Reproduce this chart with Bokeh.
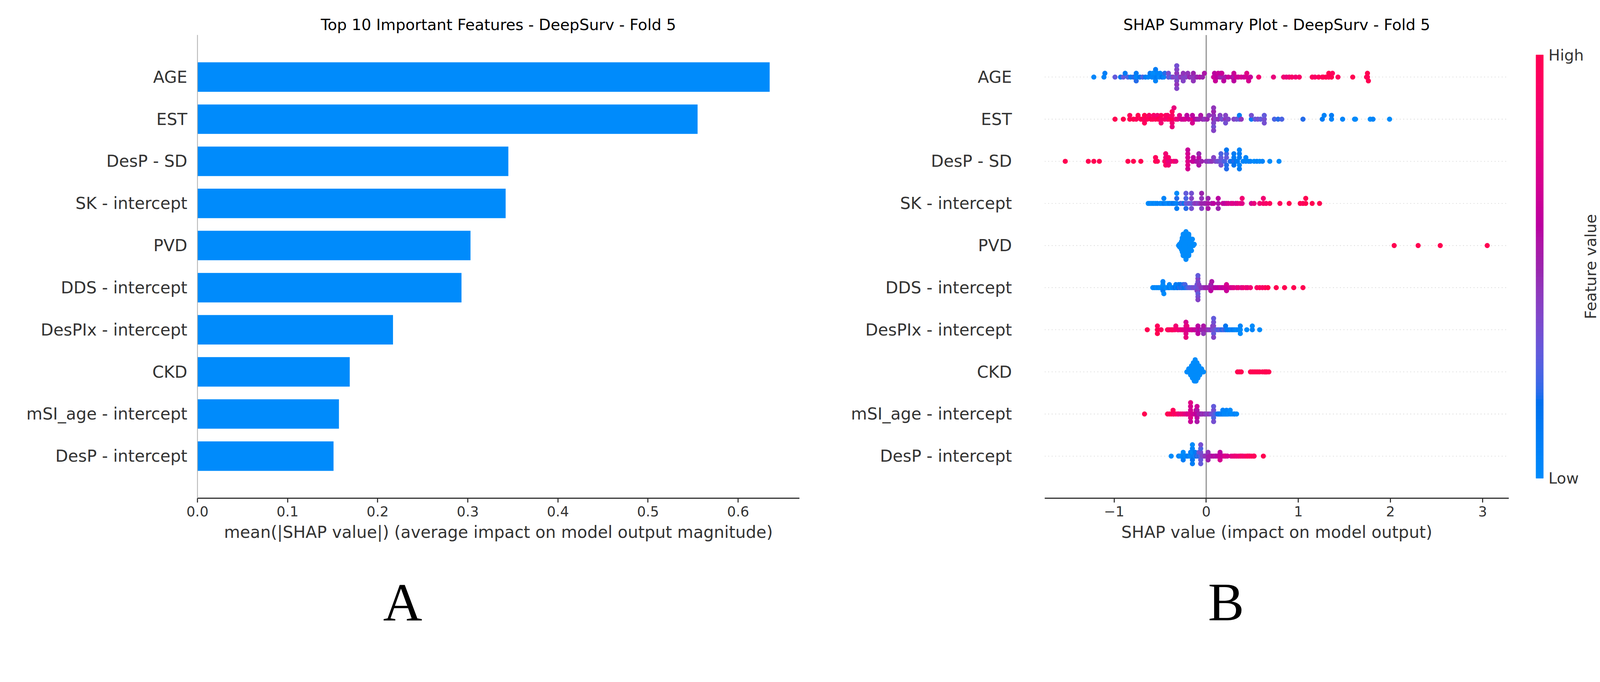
import numpy as np
from bokeh.plotting import figure
from bokeh.layouts import row, column
from bokeh.models import Range1d, FixedTicker, PrintfTickFormatter, Span
from bokeh.core.properties import value
from bokeh.embed import file_html
from bokeh.resources import INLINE

# ---------------- data ----------------
features = ["AGE", "EST", "DesP - SD", "SK - intercept", "PVD", "DDS - intercept",
            "DesPIx - intercept", "CKD", "mSI_age - intercept", "DesP - intercept"]
mean_abs_shap = [0.635, 0.555, 0.345, 0.342, 0.303, 0.293, 0.217, 0.169, 0.157, 0.151]
x_ticks_a = [0.0, 0.1, 0.2, 0.3, 0.4, 0.5, 0.6]
x_ticks_b = [-1, 0, 1, 2, 3]

# (SHAP value, normalised feature value)
AGE = [(-1.22,.03),(-1.11,.05),(-1.10,.08),(-0.99,.3),(-0.93,.15),(-0.90,.3),(-0.88,.1),(-0.85,.25),
       (-0.82,.1),(-0.79,.2),(-0.76,.05),(-0.76,.1),(-0.76,.2),(-0.75,.05),(-0.72,.15),(-0.69,.25),
       (-0.66,.1),(-0.63,.05),(-0.61,.1),(-0.59,.05),(-0.58,.0),(-0.57,.05),(-0.55,.0),(-0.55,.05),
       (-0.55,.1),(-0.54,.1),(-0.53,.05),(-0.51,.0),(-0.50,.05),(-0.48,.15),(-0.46,.05),(-0.45,.2),
       (-0.41,.3),(-0.41,.35),(-0.38,.25),(-0.36,.4),(-0.33,.35),(-0.32,.45),(-0.32,.4),(-0.32,.4),
       (-0.32,.45),(-0.32,.35),(-0.32,.4),(-0.30,.35),(-0.28,.45),(-0.25,.4),(-0.25,.45),(-0.25,.4),
       (-0.22,.4),(-0.20,.45),(-0.18,.5),(-0.16,.45),(-0.14,.5),(-0.14,.45),(-0.12,.45),(-0.10,.5),
       (-0.07,.55),(-0.04,.5),(-0.02,.55),(0.08,.65),(0.09,.6),(0.10,.65),(0.12,.6),(0.13,.65),
       (0.15,.55),(0.16,.6),(0.17,.5),(0.17,.65),(0.19,.6),(0.21,.55),(0.24,.65),(0.28,.6),
       (0.30,.55),(0.30,.65),(0.30,.6),(0.33,.7),(0.35,.65),(0.38,.7),(0.41,.65),(0.44,.7),
       (0.44,.75),(0.46,.7),(0.48,.65),(0.57,.85),(0.73,.8),(0.84,.85),(0.87,.8),(0.90,.85),
       (0.93,.9),(0.97,.85),(1.01,.9),(1.15,.95),(1.18,.9),(1.22,.95),(1.26,1.0),(1.27,.95),
       (1.30,1.0),(1.33,.95),(1.33,1.0),(1.36,1.0),(1.37,.95),(1.43,.95),(1.59,1.0),(1.74,1.0),
       (1.75,.95),(1.75,1.0),(1.76,1.0)]

EST = [(-0.99,1.0),(-0.90,1.0),(-0.83,1.0),(-0.83,.95),(-0.79,1.0),(-0.76,.95),(-0.74,1.0),(-0.71,.95),
       (-0.69,1.0),(-0.67,.9),(-0.67,1.0),(-0.67,.95),(-0.64,.95),(-0.62,.9),(-0.60,1.0),(-0.58,.95),
       (-0.57,.9),(-0.55,.95),(-0.53,.85),(-0.52,1.0),(-0.49,.9),(-0.49,.95),(-0.49,.85),(-0.45,.9),
       (-0.44,.95),(-0.42,.85),(-0.42,.9),(-0.40,.95),(-0.37,1.0),(-0.37,.9),(-0.37,.85),(-0.37,.95),
       (-0.37,.8),(-0.35,.8),(-0.33,.85),(-0.31,.8),(-0.29,.75),(-0.27,.7),(-0.25,.65),(-0.23,.7),
       (-0.21,.6),(-0.19,.65),(-0.15,.8),(-0.15,.6),(-0.15,.7),(-0.12,.6),(-0.10,.55),(-0.08,.5),
       (-0.06,.55),(-0.04,.5),(-0.02,.45),(0.01,.5),(0.03,.45),(0.08,.5),(0.08,.45),(0.08,.4),
       (0.08,.5),(0.08,.35),(0.08,.45),(0.08,.4),(0.10,.4),(0.13,.45),(0.15,.4),(0.17,.35),
       (0.21,.45),(0.21,.4),(0.21,.35),(0.24,.4),(0.30,.4),(0.33,.35),(0.36,.3),(0.36,.1),
       (0.38,.45),(0.49,.1),(0.49,.35),(0.53,.3),(0.56,.35),(0.59,.3),(0.63,.35),(0.63,.3),
       (0.63,.35),(0.74,.25),(0.78,.2),(0.82,.25),(1.05,.2),(1.26,.1),(1.28,.05),(1.36,.05),
       (1.36,.1),(1.48,.05),(1.61,.05),(1.62,.0),(1.78,.0),(1.81,.05),(1.99,.0)]

DESP_SD = [(-1.53,1.0),(-1.28,1.0),(-1.22,1.0),(-1.16,1.0),(-0.85,1.0),(-0.79,1.0),(-0.71,1.0),
           (-0.55,1.0),(-0.55,.95),(-0.53,.95),(-0.45,.9),(-0.44,.85),(-0.44,.9),(-0.44,.85),
           (-0.41,.8),(-0.41,.9),(-0.41,.85),(-0.38,.8),(-0.35,.9),(-0.33,.8),(-0.20,.75),(-0.20,.7),
           (-0.20,.75),(-0.20,.7),(-0.20,.7),(-0.20,.65),(-0.15,.6),(-0.14,.65),(-0.14,.6),(-0.11,.6),
           (-0.10,.55),(-0.08,.6),(-0.08,.55),(-0.08,.5),(-0.05,.5),(0.00,.45),(0.02,.45),(0.04,.4),
           (0.06,.45),(0.08,.4),(0.10,.4),(0.12,.35),(0.13,.35),(0.16,.3),(0.16,.3),(0.16,.35),
           (0.16,.25),(0.18,.3),(0.20,.25),(0.22,.3),(0.22,.2),(0.22,.25),(0.22,.2),(0.22,.15),
           (0.26,.2),(0.28,.15),(0.30,.2),(0.30,.1),(0.30,.15),(0.30,.1),(0.33,.15),(0.34,.1),
           (0.36,.1),(0.36,.05),(0.36,.1),(0.36,.1),(0.36,.05),(0.40,.05),(0.43,.05),(0.43,.05),
           (0.46,.05),(0.48,.05),(0.52,.0),(0.55,.05),(0.58,.0),(0.61,.05),(0.69,.0),(0.79,.0)]

SK = [(-0.63,.0),(-0.61,.05),(-0.59,.0),(-0.57,.05),(-0.55,.0),(-0.53,.05),(-0.50,.05),(-0.48,.0),
      (-0.46,.1),(-0.46,.05),(-0.44,.05),(-0.42,.0),(-0.40,.1),(-0.38,.05),(-0.36,.15),(-0.34,.1),
      (-0.32,.05),(-0.32,.2),(-0.32,.1),(-0.32,.0),(-0.28,.2),(-0.26,.25),(-0.24,.15),(-0.22,.3),
      (-0.22,.25),(-0.22,.2),(-0.22,.3),(-0.20,.3),(-0.18,.35),(-0.16,.3),(-0.16,.4),(-0.16,.35),
      (-0.16,.35),(-0.13,.4),(-0.11,.45),(-0.09,.4),(-0.07,.45),(-0.05,.5),(-0.05,.45),(-0.05,.4),
      (-0.05,.5),(-0.02,.5),(0.00,.5),(0.02,.55),(0.02,.5),(0.02,.55),(0.06,.55),(0.08,.6),
      (0.13,.55),(0.13,.6),(0.13,.5),(0.18,.65),(0.20,.6),(0.22,.65),(0.24,.7),(0.27,.7),
      (0.29,.75),(0.32,.7),(0.34,.75),(0.37,.8),(0.39,.75),(0.39,.85),(0.49,.7),(0.52,.8),
      (0.58,.85),(0.62,.9),(0.62,.85),(0.65,.9),(0.69,.95),(0.80,.95),(0.90,1.0),(1.02,1.0),
      (1.05,.95),(1.08,1.0),(1.08,1.0),(1.15,1.0),(1.23,1.0)]

PVD_low = [-0.30,-0.29,-0.29,-0.28,-0.28,-0.28,-0.27,-0.27,-0.27,-0.27,-0.26,-0.26,-0.26,-0.26,-0.26,
           -0.25,-0.25,-0.25,-0.25,-0.25,-0.25,-0.24,-0.24,-0.24,-0.24,-0.24,-0.24,-0.24,-0.23,-0.23,
           -0.23,-0.23,-0.23,-0.23,-0.23,-0.23,-0.22,-0.22,-0.22,-0.22,-0.22,-0.22,-0.22,-0.22,-0.21,
           -0.21,-0.21,-0.21,-0.21,-0.21,-0.21,-0.20,-0.20,-0.20,-0.20,-0.20,-0.20,-0.19,-0.19,-0.19,
           -0.19,-0.19,-0.18,-0.18,-0.18,-0.18,-0.17,-0.17,-0.17,-0.16,-0.16,-0.15,-0.14,-0.13]
PVD_high = [2.04, 2.30, 2.54, 3.05]

DDS = [(-0.58,.0),(-0.56,.05),(-0.54,.0),(-0.52,.05),(-0.50,.0),(-0.48,.0),(-0.47,.05),(-0.47,.0),
       (-0.47,.1),(-0.47,.05),(-0.46,.0),(-0.45,.05),(-0.43,.0),(-0.41,.05),(-0.40,.1),(-0.40,.05),
       (-0.38,.0),(-0.36,.1),(-0.35,.05),(-0.34,.15),(-0.33,.1),(-0.32,.05),(-0.31,.15),(-0.30,.1),
       (-0.29,.2),(-0.28,.15),(-0.27,.1),(-0.26,.2),(-0.25,.2),(-0.24,.15),(-0.23,.25),(-0.22,.2),
       (-0.20,.25),(-0.18,.3),(-0.16,.3),(-0.14,.35),(-0.12,.35),(-0.11,.3),(-0.10,.35),(-0.10,.4),
       (-0.09,.35),(-0.09,.3),(-0.09,.4),(-0.09,.35),(-0.09,.3),(-0.09,.4),(-0.09,.35),(-0.09,.3),
       (-0.09,.4),(-0.08,.35),(-0.08,.4),(-0.06,.4),(-0.05,.45),(-0.03,.45),(-0.01,.5),(0.01,.5),
       (0.03,.5),(0.05,.55),(0.05,.5),(0.05,.6),(0.06,.55),(0.08,.55),(0.10,.6),(0.12,.6),
       (0.14,.6),(0.16,.65),(0.18,.6),(0.20,.65),(0.22,.65),(0.22,.7),(0.22,.65),(0.26,.7),
       (0.28,.7),(0.30,.75),(0.33,.75),(0.35,.8),(0.38,.75),(0.40,.8),(0.43,.85),(0.45,.8),
       (0.48,.85),(0.55,.9),(0.58,.95),(0.61,.9),(0.64,.95),(0.67,1.0),(0.76,1.0),(0.85,1.0),
       (0.95,1.0),(1.05,1.0)]

DESPIX = [(-0.64,1.0),(-0.53,1.0),(-0.53,.95),(-0.53,1.0),(-0.49,.95),(-0.42,1.0),(-0.41,.95),
          (-0.40,.9),(-0.38,1.0),(-0.37,.9),(-0.36,.95),(-0.34,.9),(-0.33,.85),(-0.31,.9),(-0.30,.85),
          (-0.28,.8),(-0.26,.85),(-0.25,.75),(-0.23,.8),(-0.22,.7),(-0.22,.75),(-0.22,.7),(-0.22,.8),
          (-0.21,.7),(-0.21,.8),(-0.20,.75),(-0.18,.7),(-0.16,.65),(-0.15,.7),(-0.13,.6),(-0.12,.65),
          (-0.09,.55),(-0.09,.6),(-0.09,.6),(-0.07,.6),(-0.05,.5),(-0.03,.5),(-0.03,.55),(-0.03,.45),
          (0.00,.5),(0.02,.45),(0.04,.4),(0.05,.45),(0.07,.35),(0.07,.4),(0.08,.35),(0.08,.4),
          (0.08,.3),(0.08,.35),(0.08,.4),(0.08,.3),(0.09,.35),(0.11,.3),(0.13,.25),(0.15,.3),
          (0.17,.2),(0.19,.25),(0.21,.2),(0.21,.15),(0.23,.1),(0.25,.1),(0.27,.05),(0.29,.1),
          (0.31,.05),(0.33,.0),(0.35,.05),(0.37,.0),(0.37,.05),(0.37,.0),(0.44,.0),(0.50,.05),
          (0.50,.0),(0.58,.0)]

CKD_low = [-0.21,-0.20,-0.19,-0.19,-0.18,-0.18,-0.17,-0.17,-0.17,-0.16,-0.16,-0.16,-0.16,-0.15,-0.15,
           -0.15,-0.15,-0.15,-0.14,-0.14,-0.14,-0.14,-0.14,-0.14,-0.13,-0.13,-0.13,-0.13,-0.13,-0.13,
           -0.13,-0.12,-0.12,-0.12,-0.12,-0.12,-0.12,-0.12,-0.12,-0.11,-0.11,-0.11,-0.11,-0.11,-0.11,
           -0.11,-0.10,-0.10,-0.10,-0.10,-0.10,-0.10,-0.09,-0.09,-0.09,-0.09,-0.09,-0.08,-0.08,-0.08,
           -0.08,-0.07,-0.07,-0.07,-0.06,-0.06,-0.05,-0.05,-0.04,-0.03]
CKD_high = [0.34, 0.36, 0.38, 0.48, 0.50, 0.52, 0.54, 0.56, 0.58, 0.61, 0.63, 0.64, 0.65, 0.66, 0.68]

MSI = [(-0.67,1.0),(-0.42,1.0),(-0.40,.95),(-0.38,1.0),(-0.36,1.0),(-0.36,.95),(-0.35,.9),(-0.33,.95),
       (-0.31,.9),(-0.30,.85),(-0.28,.8),(-0.26,.85),(-0.24,.8),(-0.22,.75),(-0.21,.8),(-0.20,.7),
       (-0.18,.75),(-0.17,.8),(-0.17,.7),(-0.17,.75),(-0.17,.7),(-0.17,.65),(-0.17,.75),(-0.15,.7),
       (-0.13,.65),(-0.12,.7),(-0.11,.6),(-0.11,.65),(-0.10,.6),(-0.10,.55),(-0.10,.6),(-0.10,.65),
       (-0.10,.55),(-0.09,.6),(-0.08,.55),(-0.07,.5),(-0.06,.55),(-0.05,.5),(-0.04,.45),(-0.02,.5),
       (-0.01,.45),(0.01,.4),(0.03,.45),(0.05,.4),(0.06,.35),(0.08,.3),(0.08,.35),(0.08,.25),
       (0.08,.3),(0.08,.35),(0.09,.3),(0.10,.25),(0.12,.2),(0.13,.15),(0.14,.1),(0.15,.15),
       (0.16,.1),(0.17,.05),(0.18,.1),(0.18,.05),(0.19,.05),(0.20,.0),(0.21,.05),(0.22,.0),
       (0.22,.05),(0.23,.05),(0.24,.0),(0.26,.05),(0.26,.0),(0.28,.0),(0.30,.0),(0.31,.05),
       (0.33,.0)]

DESP = [(-0.38,.0),(-0.30,.05),(-0.28,.0),(-0.25,.05),(-0.25,.0),(-0.25,.1),(-0.23,.05),(-0.22,.0),
        (-0.21,.05),(-0.20,.1),(-0.18,.05),(-0.17,.0),(-0.17,.1),(-0.15,.05),(-0.15,.0),(-0.15,.15),
        (-0.15,.05),(-0.15,.1),(-0.15,.0),(-0.13,.1),(-0.12,.0),(-0.12,.1),(-0.11,.2),(-0.10,.15),
        (-0.09,.25),(-0.08,.2),(-0.08,.3),(-0.06,.25),(-0.06,.35),(-0.06,.3),(-0.06,.25),(-0.06,.3),
        (-0.06,.35),(-0.04,.4),(-0.03,.35),(-0.02,.4),(-0.01,.45),(0.00,.45),(0.02,.5),(0.02,.45),
        (0.02,.5),(0.04,.55),(0.05,.5),(0.06,.55),(0.08,.6),(0.10,.55),(0.12,.6),(0.15,.65),
        (0.15,.6),(0.15,.7),(0.16,.65),(0.18,.65),(0.20,.7),(0.21,.75),(0.23,.7),(0.27,.75),
        (0.29,.8),(0.31,.8),(0.33,.85),(0.35,.8),(0.37,.85),(0.39,.9),(0.41,.85),(0.43,.9),
        (0.45,.95),(0.47,.9),(0.49,.95),(0.51,1.0),(0.52,.95),(0.62,1.0)]

PVD = [(x, 0.0) for x in PVD_low] + [(x, 1.0) for x in PVD_high]
CKD = [(x, 0.0) for x in CKD_low] + [(x, 1.0) for x in CKD_high]
rows_data = [AGE, EST, DESP_SD, SK, PVD, DDS, DESPIX, CKD, MSI, DESP]

# ---------------- helpers ----------------
FONT = "DejaVu Sans"
TXT = "#333333"
K = 1.067          # photographed pixels per CSS pixel (measured)


def c(v):
    """reference-picture pixels -> CSS pixels"""
    return v / K


def fs(v):
    return "%.1fpx" % c(v)


def shap_red_blue(t):
    """SHAP's red_blue colormap (LCH interpolation), returns hex."""
    bL, bC, bH = 54.0, 70.0, 4.6588
    rL, rC, rH = 54.0, 90.0, 0.35470565 + 2 * np.pi
    lmid = 40.0
    if t <= 0.5:
        L = bL + (lmid - bL) * (t / 0.5)
    else:
        L = lmid + (rL - lmid) * ((t - 0.5) / 0.5)
    C = bC + (rC - bC) * t
    H = bH + (rH - bH) * t
    a, b = C * np.cos(H), C * np.sin(H)
    fy = (L + 16.0) / 116.0
    fx = a / 500.0 + fy
    fz = fy - b / 200.0
    out = []
    for v in (fx, fy, fz):
        out.append(v ** 3 if v > 0.2068966 else (v - 16.0 / 116.0) / 7.787)
    xyz = np.array(out) * np.array([0.95047, 1.0, 1.08883])
    M = np.array([[3.24048134, -1.53715152, -0.49853633],
                  [-0.96925495, 1.87599, 0.04155593],
                  [0.05564664, -0.20404134, 1.05731107]])
    rgb = M @ xyz
    res = []
    for ch in rgb:
        ch = 1.055 * ch ** (1 / 2.4) - 0.055 if ch > 0.0031308 else ch * 12.92
        res.append(int(round(min(max(ch, 0.0), 1.0) * 255)))
    return "#%02x%02x%02x" % tuple(res)


def swarm_offsets(xs, row_height=0.4, nbins=100):
    xs = np.asarray(xs, dtype=float)
    quant = np.round(nbins * (xs - xs.min()) / (xs.max() - xs.min() + 1e-8))
    inds = np.argsort(quant, kind="stable")
    ys = np.zeros(len(xs))
    layer, last = 0, -1
    for i in inds:
        if quant[i] != last:
            layer = 0
        ys[i] = np.ceil(layer / 2) * ((layer % 2) * 2 - 1)
        layer += 1
        last = quant[i]
    ys *= 0.9 * (row_height / np.max(ys + 1))
    return ys


n = len(features)
ypos = [n - i for i in range(n)]
labels = {y: f for y, f in zip(ypos, features)}

# ---- layout (measured on the reference, converted to CSS px) ----
X0 = 8                                   # page margin (CSS)
W1 = round(c(2200) - X0)                 # left figure width
W2 = round(c(4150) - c(2200))            # right figure width
W3 = round(4105 - X0 - W1 - W2 + X0)     # colour-bar figure width
W3 = min(W3, round(c(4397) - 16 - W1 - W2))
TOP_H = round(c(1530) - X0)
BORDER_TOP = round(c(103) - X0)
BORDER_BOTTOM = TOP_H - round(c(1369) - X0)
LET_H = round(c(1746) - 16 - TOP_H)


def style_common(p):
    p.grid.visible = False
    p.outline_line_color = None
    p.title.align = "center"
    p.title.text_font = FONT
    p.title.text_font_size = fs(42)
    p.title.text_font_style = "normal"
    p.title.text_color = "#000000"
    p.title.standoff = round(c(8))
    ax = p.xaxis[0]
    ax.axis_line_color = TXT
    ax.axis_line_width = c(3)
    ax.major_tick_out = round(c(12))
    ax.major_tick_in = 0
    ax.major_tick_line_width = c(3)
    ax.major_tick_line_color = TXT
    ax.minor_tick_line_color = None
    ax.major_label_text_font = FONT
    ax.major_label_text_font_size = fs(38)
    ax.major_label_text_color = TXT
    ax.major_label_standoff = round(c(10))
    ax.axis_label_text_font = FONT
    ax.axis_label_text_font_size = fs(45)
    ax.axis_label_text_font_style = "normal"
    ax.axis_label_text_color = TXT
    ax.axis_label_standoff = round(c(14))
    ay = p.yaxis[0]
    ay.ticker = FixedTicker(ticks=ypos)
    ay.major_label_overrides = labels
    ay.major_tick_out = 0
    ay.major_tick_in = 0
    ay.minor_tick_line_color = None
    ay.major_label_text_font = FONT
    ay.major_label_text_font_size = fs(45)
    ay.major_label_text_color = TXT


# ---------------- panel A: bar chart ----------------
p1 = figure(width=W1, height=TOP_H, x_range=Range1d(0, 0.668), y_range=Range1d(0, n + 1),
            min_border_left=round(c(547) - X0), min_border_right=W1 - round(c(2192) - X0),
            min_border_top=BORDER_TOP, min_border_bottom=BORDER_BOTTOM,
            toolbar_location=None, output_backend="svg",
            title="Top 10 Important Features - DeepSurv - Fold 5")
p1.hbar(y=ypos, left=0, right=mean_abs_shap, height=0.7, fill_color="#008bfb", line_color=None)
style_common(p1)
p1.xaxis[0].ticker = FixedTicker(ticks=x_ticks_a)
p1.xaxis[0].formatter = PrintfTickFormatter(format="%.1f")
p1.xaxis[0].axis_label = "mean(|SHAP value|) (average impact on model output magnitude)"
p1.yaxis[0].axis_line_color = "#aaaaaa"
p1.yaxis[0].axis_line_width = c(2)
p1.yaxis[0].major_label_standoff = round(c(28))

# ---------------- panel B: beeswarm ----------------
p2 = figure(width=W2, height=TOP_H, x_range=Range1d(-1.753, 3.284), y_range=Range1d(0, n + 1),
            min_border_left=round(c(2862) - c(2200)), min_border_right=round(c(4150) - c(4129)),
            min_border_top=BORDER_TOP, min_border_bottom=BORDER_BOTTOM,
            toolbar_location=None, output_backend="svg",
            title="SHAP Summary Plot - DeepSurv - Fold 5")
style_common(p2)
p2.xaxis[0].ticker = FixedTicker(ticks=x_ticks_b)
p2.xaxis[0].major_label_overrides = {-1: "\u22121"}
p2.xaxis[0].axis_label = "SHAP value (impact on model output)"
p2.yaxis[0].axis_line_color = None
p2.yaxis[0].major_label_standoff = round(c(90))

for y in ypos:
    p2.add_layout(Span(location=y, dimension="width", line_color="#cccccc", line_width=c(1.7),
                       line_dash="2 7", level="underlay"))
p2.add_layout(Span(location=0, dimension="height", line_color="#999999", line_width=c(3.5),
                   level="underlay"))

for y, pts in zip(ypos, rows_data):
    xs = [pt[0] for pt in pts]
    fv = [pt[1] for pt in pts]
    offs = swarm_offsets(xs)
    p2.scatter(x=xs, y=[y + o for o in offs], size=c(14),
               fill_color=[shap_red_blue(v) for v in fv], line_color=None)

# ---------------- colour bar (own small figure) ----------------
CB_FRAME = TOP_H - BORDER_TOP - BORDER_BOTTOM
PADPX = round(c(60))
pad = PADPX / CB_FRAME
pc = figure(width=W3, height=TOP_H, x_range=Range1d(0, W3), y_range=Range1d(-pad, 1 + pad),
            min_border_left=0, min_border_right=0, min_border_top=BORDER_TOP - PADPX,
            min_border_bottom=BORDER_BOTTOM - PADPX, toolbar_location=None, output_backend="svg")
pc.axis.visible = False
pc.grid.visible = False
pc.outline_line_color = None
cb_left = c(4203) - c(4150)
cb_right = c(4223) - c(4150)
edges = np.linspace(0, 1, 129)
seg_cols = [shap_red_blue((edges[i] + edges[i + 1]) / 2) for i in range(len(edges) - 1)]
pc.quad(left=cb_left, right=cb_right, bottom=edges[:-1], top=edges[1:], fill_color=seg_cols,
        line_color=seg_cols, line_width=1)
hl_x = c(4237) - c(4150)
pc.text(x=[hl_x, hl_x], y=[1, 0], text=["High", "Low"], text_font=value(FONT),
        text_font_size=fs(42), text_color=TXT, text_align="left", text_baseline="middle")
fv_x = min(c(4352) - c(4150), W3 - 24)
pc.text(x=[fv_x], y=[0.5], text=["Feature value"], angle=np.pi / 2, text_font=value(FONT),
        text_font_size=fs(42), text_color=TXT, text_align="center", text_baseline="middle")

# ---------------- panel letters ----------------
W_ALL = W1 + W2 + W3
p3 = figure(width=W_ALL, height=LET_H, x_range=Range1d(0, W_ALL), y_range=Range1d(0, LET_H),
            min_border=0, toolbar_location=None, output_backend="svg")
p3.axis.visible = False
p3.grid.visible = False
p3.outline_line_color = None
LET_FS = c(148)
let_y = max(LET_H - (c(1665) - X0 - TOP_H), LET_FS * 0.56 + 2)
p3.text(x=[c(1108) - X0, c(3357) - X0], y=[let_y, let_y], text=["A", "B"],
        text_font=value("Liberation Serif"), text_font_size="%.1fpx" % LET_FS,
        text_color="#000000", text_align="center", text_baseline="middle")

layout = column(row(p1, p2, pc), p3)
open("out.html", "w").write(file_html(layout, INLINE))
